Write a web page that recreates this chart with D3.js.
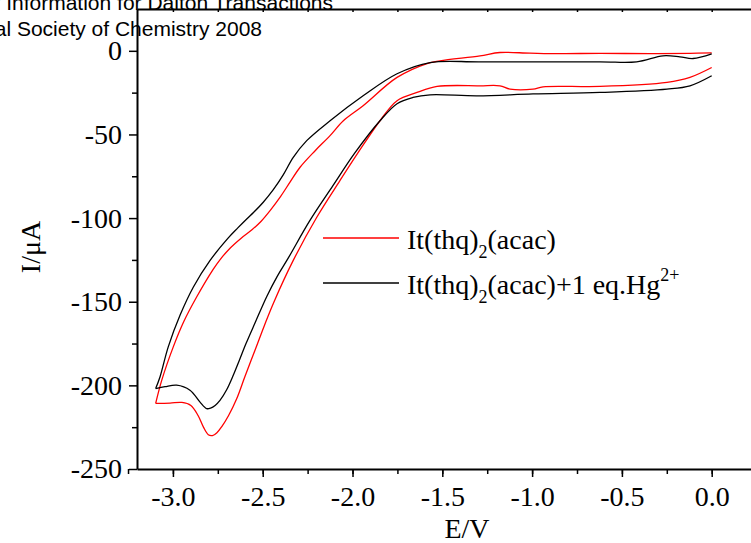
<!DOCTYPE html>
<html>
<head>
<meta charset="utf-8">
<script src="https://cdn.jsdelivr.net/npm/d3@7/dist/d3.min.js"></script>
<style>
  html, body { margin: 0; padding: 0; background: #fff; overflow: hidden; }
  svg { display: block; }
</style>
</head>
<body>
<div id="chart"></div>
<script>
// potential (V) and current (uA), scan split in two halves
const redUpperE = [0.00, -0.121, -0.343, -0.622, -0.845, -1.012, -1.179, -1.290, -1.513, -1.585, -1.752, -1.941, -2.051, -2.125, -2.208, -2.292, -2.348, -2.40, -2.459, -2.51, -2.56, -2.62, -2.682, -2.735, -2.775, -2.868, -2.94, -2.998, -3.062, -3.096];
const redUpperI = [-1.2, -1.5, -1.7, -1.5, -1.7, -1.4, -1.0, -3.0, -6.0, -7.6, -15.9, -32.8, -41.8, -50.7, -59.7, -69.6, -78.5, -87.0, -95.5, -102.0, -107.0, -112.0, -118.0, -124.5, -130.5, -147.2, -162.0, -177.0, -196.9, -210.8];
const redLowerE = [-3.096, -3.016, -2.95, -2.90, -2.86, -2.83, -2.803, -2.78, -2.755, -2.727, -2.69, -2.645, -2.60, -2.543, -2.49, -2.441, -2.330, -2.199, -2.070, -1.969, -1.847, -1.752, -1.641, -1.529, -1.290, -1.179, -1.123, -0.995, -0.939, -0.622, -0.249, -0.121, 0.00];
const redLowerI = [-210.8, -210.6, -210.2, -212.0, -218.0, -225.0, -229.5, -230.0, -228.3, -224.5, -218.0, -208.0, -195.0, -179.0, -164.0, -151.0, -125.3, -99.5, -77.6, -60.9, -41.8, -29.8, -24.9, -21.3, -20.9, -20.9, -22.9, -22.9, -21.5, -21.3, -18.9, -15.9, -10.0];
const blackUpperE = [0.00, -0.104, -0.177, -0.271, -0.418, -0.622, -1.290, -1.568, -1.752, -1.941, -2.125, -2.255, -2.330, -2.385, -2.441, -2.497, -2.55, -2.589, -2.64, -2.693, -2.793, -2.886, -2.96, -3.026, -3.072, -3.096];
const blackUpperI = [-1.8, -4.6, -3.6, -3.0, -6.6, -6.6, -6.6, -7.0, -13.7, -26.9, -41.8, -53.7, -63.7, -74.0, -83.0, -90.5, -96.5, -100.5, -106.0, -112.0, -125.3, -141.2, -158.0, -177.0, -195.0, -201.9];
const blackLowerE = [-3.096, -3.044, -2.979, -2.905, -2.849, -2.812, -2.79, -2.765, -2.738, -2.70, -2.664, -2.63, -2.593, -2.54, -2.478, -2.42, -2.359, -2.237, -2.109, -1.986, -1.847, -1.752, -1.663, -1.568, -1.306, -0.995, -0.622, -0.249, -0.121, 0.00];
const blackLowerI = [-201.9, -200.8, -199.9, -202.9, -210.0, -213.9, -213.6, -212.0, -209.0, -202.5, -194.0, -185.0, -175.0, -162.0, -147.0, -135.0, -124.1, -101.4, -80.6, -60.9, -41.8, -31.6, -27.9, -26.3, -26.9, -25.8, -24.9, -22.9, -20.9, -14.9];

const xTicks = [-3.0, -2.5, -2.0, -1.5, -1.0, -0.5, 0.0];
const yTicks = [0, -50, -100, -150, -200, -250];
const legendNames = ["It(thq)", "It(thq)"];
const headerLines = ["Electronic Supplementary Information for Dalton Transactions",
                     "This journal is \u00a9 The Royal Society of Chemistry 2008"];

const width = 751, height = 543;
const serif = '"Liberation Serif", "Times New Roman", serif';

const svg = d3.select("#chart").append("svg")
    .attr("width", width)
    .attr("height", height);

const x = d3.scaleLinear().domain([-3.2, 0.25]).range([137, 756.6]);
const y = d3.scaleLinear().domain([-250, 25]).range([469, 9]);

svg.append("clipPath").attr("id", "plotClip")
    .append("rect")
    .attr("x", x(-3.2)).attr("y", y(25))
    .attr("width", x(0.25) - x(-3.2)).attr("height", y(-250) - y(25));

const line = d3.line()
    .x(d => x(d[0]))
    .y(d => y(d[1]))
    .curve(d3.curveCatmullRom.alpha(0.5));

const series = [
    { e: redUpperE, i: redUpperI, color: "#ff0000" },
    { e: redLowerE, i: redLowerI, color: "#ff0000" },
    { e: blackUpperE, i: blackUpperI, color: "#000000" },
    { e: blackLowerE, i: blackLowerI, color: "#000000" }
];

const gCurves = svg.append("g").attr("clip-path", "url(#plotClip)");
series.forEach(s => {
    gCurves.append("path")
        .datum(d3.zip(s.e, s.i))
        .attr("fill", "none")
        .attr("stroke", s.color)
        .attr("stroke-width", 1.3)
        .attr("d", line);
});

// axes
const xMinor = d3.range(-3.25, 0.26, 0.25);
const yMinor = d3.range(-225, 25, 50);

function styleAxis(g) {
    g.select(".domain").attr("stroke-width", 2);
    g.selectAll(".tick line").attr("stroke-width", 1.5);
    g.selectAll(".tick text")
        .style("font-family", serif)
        .style("font-size", "28px");
}

svg.append("g")
    .attr("transform", `translate(0,${y(-250)})`)
    .call(d3.axisBottom(x).tickValues(xMinor).tickSize(5).tickFormat(""))
    .call(g => g.select(".domain").remove())
    .call(g => g.selectAll(".tick line").attr("stroke-width", 1.5));

svg.append("g")
    .attr("transform", `translate(0,${y(-250)})`)
    .call(d3.axisBottom(x).tickValues(xTicks).tickSize(8).tickPadding(9)
        .tickSizeOuter(0).tickFormat(d => d3.format(".1f")(d).replace("\u2212", "-")))
    .call(styleAxis);

svg.append("g")
    .attr("transform", `translate(0,${y(25)})`)
    .call(d3.axisTop(x).tickValues(xMinor.filter(v => v >= -3.2)).tickSize(-3).tickSizeOuter(0).tickFormat(""))
    .call(styleAxis);

svg.append("g")
    .attr("transform", `translate(${x(-3.2)},0)`)
    .call(d3.axisLeft(y).tickValues(yMinor).tickSize(5).tickFormat(""))
    .call(g => g.select(".domain").remove())
    .call(g => g.selectAll(".tick line").attr("stroke-width", 1.5));

svg.append("g")
    .attr("transform", `translate(${x(-3.2)},0)`)
    .call(d3.axisLeft(y).tickValues(yTicks).tickSize(8).tickPadding(7).tickSizeOuter(0)
        .tickFormat(d => String(d)))
    .call(styleAxis);

// axis titles
svg.append("text")
    .attr("x", 467)
    .attr("y", 538)
    .attr("text-anchor", "middle")
    .attr("font-family", serif)
    .attr("font-size", 28)
    .text("E/V");

svg.append("text")
    .attr("transform", "translate(40,247) rotate(-90)")
    .attr("text-anchor", "middle")
    .attr("font-family", serif)
    .attr("font-size", 28)
    .text("I/\u03bcA");

// legend
const legend = svg.append("g").attr("font-family", serif).attr("font-size", 28);
const legendRows = [
    { color: "#ff0000", y: 238, tail: "(acac)", sup: "" },
    { color: "#000000", y: 283, tail: "(acac)+1 eq.Hg", sup: "2+" }
];
legendRows.forEach((r, k) => {
    legend.append("line")
        .attr("x1", 323).attr("x2", 399)
        .attr("y1", r.y).attr("y2", r.y)
        .attr("stroke", r.color).attr("stroke-width", 1.3);
    const t = legend.append("text").attr("x", 407).attr("y", r.y + 11);
    t.append("tspan").text(legendNames[k]);
    t.append("tspan").attr("font-size", 18).attr("dy", 9).text("2");
    t.append("tspan").attr("dy", -9).text(r.tail);
    if (r.sup) t.append("tspan").attr("font-size", 18).attr("dy", -13).text(r.sup);
});

// page header (cut at the left)
svg.append("g")
    .attr("font-family", '"Liberation Sans", Arial, sans-serif')
    .attr("font-size", 21)
    .attr("text-anchor", "end")
    .selectAll("text")
    .data(headerLines)
    .join("text")
    .attr("x", (d, k) => k === 0 ? 333 : 262)
    .attr("y", (d, k) => k === 0 ? 10 : 36)
    .text(d => d);
</script>
</body>
</html>
